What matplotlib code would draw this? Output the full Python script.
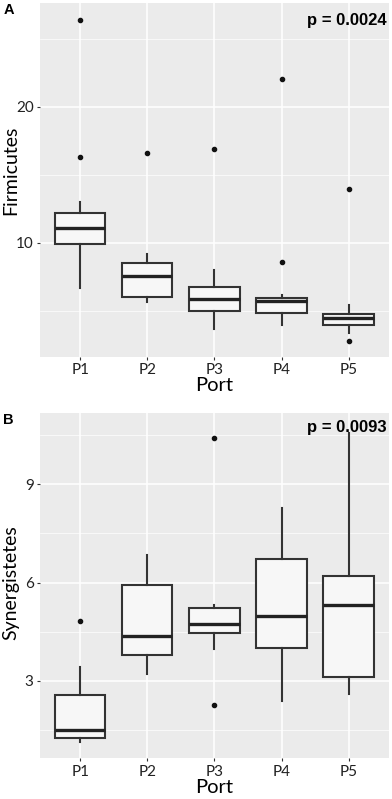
import matplotlib.pyplot as plt
from matplotlib.ticker import MultipleLocator

ports = ['P1', 'P2', 'P3', 'P4', 'P5']

# panel A: Firmicutes (box stats)
firm_whislo = [6.7, 5.66, 3.7, 3.95, 3.41]
firm_q1 = [9.9, 6.05, 5.0, 4.83, 3.97]
firm_med = [11.1, 7.55, 5.84, 5.69, 4.49]
firm_q3 = [12.2, 8.5, 6.72, 5.98, 4.78]
firm_whishi = [13.0, 9.2, 8.0, 6.15, 5.42]
firm_fliers = [[26.4, 16.3], [16.6], [16.9], [22.06, 8.58], [13.95, 2.77]]

# panel B: Synergistetes
syn_whislo = [1.13, 3.2, 3.98, 2.4, 2.6]
syn_q1 = [1.25, 3.8, 4.45, 4.0, 3.11]
syn_med = [1.49, 4.38, 4.75, 4.97, 5.31]
syn_q3 = [2.58, 5.94, 5.21, 6.72, 6.19]
syn_whishi = [3.42, 6.83, 5.31, 8.28, 10.57]
syn_fliers = [[4.84], [], [10.41, 2.27], [], []]

pvals = ['p = 0.0024', 'p = 0.0093']


def make_stats(lo, q1, med, q3, hi, fl):
    out = []
    for i in range(len(lo)):
        out.append(dict(whislo=lo[i], q1=q1[i], med=med[i], q3=q3[i],
                        whishi=hi[i], fliers=fl[i]))
    return out


def panel(ax, stats, ylabel, ylim, major, minor, ptext, py, letter, label_y):
    ax.set_facecolor('#EBEBEB')
    ax.bxp(stats, positions=range(1, 6), widths=0.75, patch_artist=True,
           showcaps=False,
           boxprops=dict(facecolor='#F7F7F7', edgecolor='#333333', linewidth=1.5),
           medianprops=dict(color='#222222', linewidth=2.4, solid_capstyle='butt'),
           whiskerprops=dict(color='#333333', linewidth=1.5),
           flierprops=dict(marker='o', markersize=3, markerfacecolor='#111111',
                           markeredgecolor='#111111'))
    ax.set_xlim(0.4, 5.6)
    ax.set_ylim(*ylim)
    ax.yaxis.set_major_locator(MultipleLocator(major))
    ax.yaxis.set_minor_locator(MultipleLocator(minor))
    ax.grid(which='major', color='white', linewidth=1.1)
    ax.grid(which='minor', axis='y', color='white', linewidth=0.5)
    ax.set_axisbelow(True)
    for s in ax.spines.values():
        s.set_visible(False)
    ax.set_xticks(range(1, 6))
    ax.set_xticklabels(ports)
    ax.tick_params(which='major', length=2.5, color='#333333', labelsize=11,
                   labelcolor='#222222', pad=2)
    ax.tick_params(which='minor', length=0)
    for lab in ax.get_xticklabels() + ax.get_yticklabels():
        lab.set_family('Lato')
    ax.set_xlabel('Port', fontsize=14.5, family='Lato', labelpad=0)
    ax.set_ylabel(ylabel, fontsize=14, family='Lato')
    ax.yaxis.set_label_coords(-0.058, label_y)
    ax.text(0.995, py, ptext, transform=ax.transAxes, ha='right', va='top',
            fontsize=12, fontweight='bold', family='Liberation Sans', zorder=5)
    ax.text(-0.075, 1.0, letter, transform=ax.transAxes, ha='right', va='top',
            fontsize=10.5, fontweight='bold', family='Liberation Sans')


fig = plt.figure(figsize=(3.92, 7.99), dpi=100)
axA = fig.add_axes([0.102, 0.553, 0.89, 0.443])
axB = fig.add_axes([0.102, 0.051, 0.89, 0.432])

panel(axA, make_stats(firm_whislo, firm_q1, firm_med, firm_q3, firm_whishi, firm_fliers),
      'Firmicutes', (1.6, 27.6), 10, 5, pvals[0], 0.972, 'A', 0.528)
panel(axB, make_stats(syn_whislo, syn_q1, syn_med, syn_q3, syn_whishi, syn_fliers),
      'Synergistetes', (0.64, 11.17), 3, 1.5, pvals[1], 0.98, 'B', 0.51)

fig.savefig('out.png', dpi=100)
